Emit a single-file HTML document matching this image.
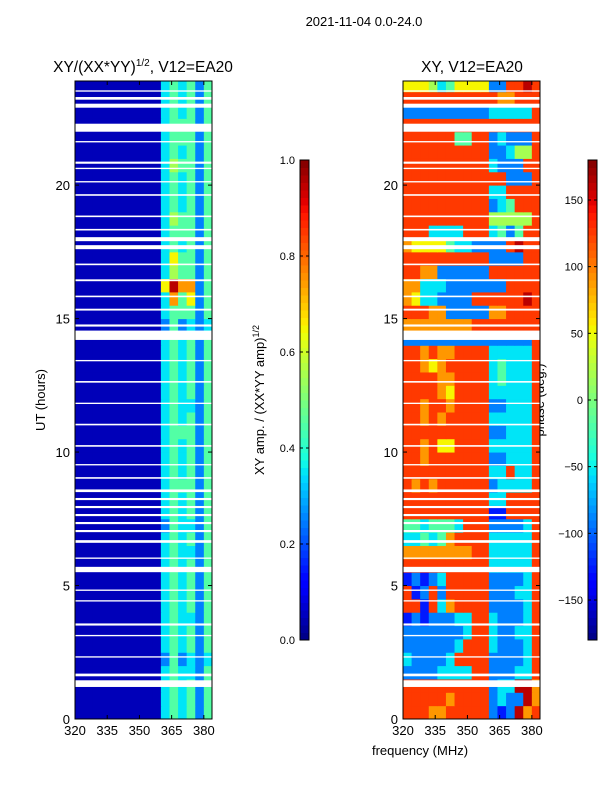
<!DOCTYPE html>
<html><head><meta charset="utf-8"><style>
body{margin:0;background:#fff;}
svg{font-family:"Liberation Sans","DejaVu Sans",sans-serif;}
</style></head><body>
<svg id="fig" width="600" height="800" viewBox="0 0 600 800" xmlns="http://www.w3.org/2000/svg">
<rect width="600" height="800" fill="#fff"/>
<text x="364" y="26" font-size="13" text-anchor="middle">2021-11-04 0.0-24.0</text>
<text x="143" y="72" font-size="15.5" text-anchor="middle">XY/(XX*YY)<tspan font-size="10" dy="-6">1/2</tspan><tspan dy="6">, V12=EA20</tspan></text>
<text x="472" y="72" font-size="15.5" text-anchor="middle">XY, V12=EA20</text>
<text transform="translate(45,400) rotate(-90)" font-size="13" text-anchor="middle">UT (hours)</text>
<text x="420" y="755" font-size="13" text-anchor="middle">frequency (MHz)</text>
<text transform="translate(264,400) rotate(-90)" font-size="13" text-anchor="middle">XY amp. / (XX*YY amp)<tspan font-size="9" dy="-5">1/2</tspan></text>
<text transform="translate(544,400) rotate(-90)" font-size="13" text-anchor="middle">phase (deg.)</text>
<defs>
<clipPath id="c1"><rect x="75" y="81" width="137" height="638"/></clipPath>
<clipPath id="c2"><rect x="403" y="81" width="137" height="638"/></clipPath>
</defs>
<g id="p1" clip-path="url(#c1)"></g>
<g id="p2" clip-path="url(#c2)"></g>
<g id="axes"></g>
</svg>
<script>
const freqTicks=[320,335,350,365,380];
const hourTicks=[0,5,10,15,20];
const ampTicks=[0.0,0.2,0.4,0.6,0.8,1.0];
const phaseTicks=[-150,-100,-50,0,50,100,150];
const ampRows=["0000000000343424","0000000000343424","0000000000343424","0000000000343324","0000000000242323","0000000000343424","0000000000343424","0000000000343324","0000000000343424","0000000000343424","0000000000343424","0000000000343424","0000000000343324","0000000000343424","0000000000243324","0000000000343424","0000000000343424","0000000000344424","0000000000343424","0000000000343424","0000000000343424","0000000000344424","0000000000343424","0000000000343324","0000000000343424","0000000000343424","0000000000343424","0000000000343424","0000000000343424","0000000000242323","0000000000344424","0000000000374624","0000000000697724","0000000000354424","0000000000364424","0000000000343424","0000000000344424","0000000000354424","0000000000343424","0000000000343424","0000000000343424","0000000000354424","0000000000343424","0000000000344424","0000000000344424","0000000000343424","0000000000343424","0000000000343424"];
const phaseRows=["8887788888212978","8888878888232297","8888888888233997","2222333388222338","3222238888222238","2222223888322238","2222222388322338","1212223388322238","8818378888222238","8128288888222338","1212388888222238","8888888888333338","7777777788333338","3343478888333338","4434443888222238","8888888888118888","8888888888338888","8787888888233338","8888888888338338","8878888888223338","8878668888333338","8888888888223338","8878788888333338","8878878888223338","8888768888333338","8888778888343338","8876788888343338","8878778888333338","2222222222222228","7777777788888888","8887722222778888","7633222288888898","7733322222228888","8877222222888888","8888888888222288","7666643322228988","8883333888342488","8888888888555558","8888888888234888","8888888888338888","8888888888882228","8888888888322288","8888888888223558","8888884488232228","8888888888888888","2222222222333338","8888888888877888","6665346666228898"];
const gapStart=[1.2,1.6,2.3,3.1,3.5,4.4,4.8,5.5,6.0,6.6,7.0,7.3,7.6,7.9,8.2,8.5,9.0,9.5,10.2,11.0,11.8,12.6,13.4,14.2,14.7,15.3,15.8,16.4,17.0,17.6,17.9,18.3,18.8,19.6,20.1,20.6,20.8,21.6,22.0,22.9,23.2,23.5];
const gapEnd=[1.45,1.7,2.35,3.15,3.58,4.45,4.85,5.7,6.05,6.7,7.08,7.38,7.68,7.98,8.28,8.6,9.06,9.55,10.26,11.06,11.85,12.66,13.45,14.55,14.78,15.37,15.86,16.47,17.06,17.75,18.05,18.36,18.86,19.66,20.15,20.65,20.88,21.65,22.3,23.05,23.3,23.55];
const F0=320,F1=383.8,H0=0,H1=23.9;
const NS="http://www.w3.org/2000/svg";
function jet(v){v=Math.max(0,Math.min(1,v));
 function pl(p){for(let i=1;i<p.length;i++){if(v<=p[i][0]){const a=p[i-1],b=p[i];return a[1]+(b[1]-a[1])*(v-a[0])/(b[0]-a[0]);}}return p[p.length-1][1];}
 const r=pl([[0,0],[0.35,0],[0.66,1],[0.89,1],[1,0.5]]),g=pl([[0,0],[0.125,0],[0.375,1],[0.64,1],[0.91,0],[1,0]]),b=pl([[0,0.5],[0.11,1],[0.34,1],[0.65,0],[1,0]]);
 return `rgb(${Math.round(r*255)},${Math.round(g*255)},${Math.round(b*255)})`;}
function mk(tag,at,par){const e=document.createElementNS(NS,tag);for(const k in at)e.setAttribute(k,at[k]);par.appendChild(e);return e;}
const panels=[{x0:75,id:'p1',rows:ampRows,name:'amp'},{x0:403,id:'p2',rows:phaseRows,name:'phase'}];
const pTop=81,pBot=719,W=137;
const yS=h=>pBot-(h-H0)/(H1-H0)*(pBot-pTop);
const axG=document.getElementById('axes');
panels.forEach(P=>{
 const xS=f=>P.x0+(f-F0)/(F1-F0)*W;
 const g=document.getElementById(P.id);
 P.rows.forEach((row,ri)=>{
  for(let ci=0;ci<row.length;ci++){
   const v=(parseInt(row[ci])+0.5)/10;
   const x=xS(320+ci*4),x2=xS(324+ci*4),y=yS(ri*0.5+0.5),y2=yS(ri*0.5);
   const r=mk('rect',{x:x,y:y,width:x2-x+0.5,height:y2-y+0.5,fill:jet(v)},g);
   
   
  }});
 gapStart.forEach((s,i)=>{
  const r=mk('rect',{x:P.x0,y:yS(gapEnd[i]),width:W,height:yS(s)-yS(gapEnd[i]),fill:'#fff'},g);
  
  
 });
 const fr=mk('rect',{x:P.x0,y:pTop,width:W,height:pBot-pTop,fill:'none',stroke:'#000','stroke-width':1},axG);
 
 
 freqTicks.forEach(f=>{const x=xS(f);
  mk('line',{x1:x,x2:x,y1:pBot,y2:pBot-4,stroke:'#000'},axG);mk('line',{x1:x,x2:x,y1:pTop,y2:pTop+4,stroke:'#000'},axG);
  const t=mk('text',{x:x,y:pBot+16,'font-size':13,'text-anchor':'middle'},axG);t.textContent=f;
  
  });
 hourTicks.forEach(h=>{const y=yS(h);
  mk('line',{x1:P.x0,x2:P.x0+4,y1:y,y2:y,stroke:'#000'},axG);mk('line',{x1:P.x0+W,x2:P.x0+W-4,y1:y,y2:y,stroke:'#000'},axG);
  const t=mk('text',{x:P.x0-5,y:y+5,'font-size':13,'text-anchor':'end'},axG);t.textContent=h;
  
  });
});
const cbs=[{x:300,lo:0,hi:1,ticks:ampTicks,fmt:v=>v.toFixed(1),name:'amp-colorbar'},{x:588,lo:-180,hi:180,ticks:phaseTicks,fmt:v=>v<0?'\u2212'+(-v):''+v,name:'phase-colorbar'}];
const cTop=160,cBot=640,cW=9;
cbs.forEach(C=>{
 const n=64;
 for(let i=0;i<n;i++){
  const r=mk('rect',{x:C.x,y:cBot-(i+1)*(cBot-cTop)/n,width:cW,height:(cBot-cTop)/n+0.5,fill:jet((i+0.5)/n)},axG);
  
  
 }
 const fr=mk('rect',{x:C.x,y:cTop,width:cW,height:cBot-cTop,fill:'none',stroke:'#000'},axG);
 
 
 C.ticks.forEach(v=>{const y=cBot-(v-C.lo)/(C.hi-C.lo)*(cBot-cTop);
  mk('line',{x1:C.x,x2:C.x+3,y1:y,y2:y,stroke:'#000'},axG);mk('line',{x1:C.x+cW,x2:C.x+cW-3,y1:y,y2:y,stroke:'#000'},axG);
  const t=mk('text',{x:C.x-5,y:y+4,'font-size':11,'text-anchor':'end'},axG);t.textContent=C.fmt(v);
  
  });
});
</script>
</body></html>
